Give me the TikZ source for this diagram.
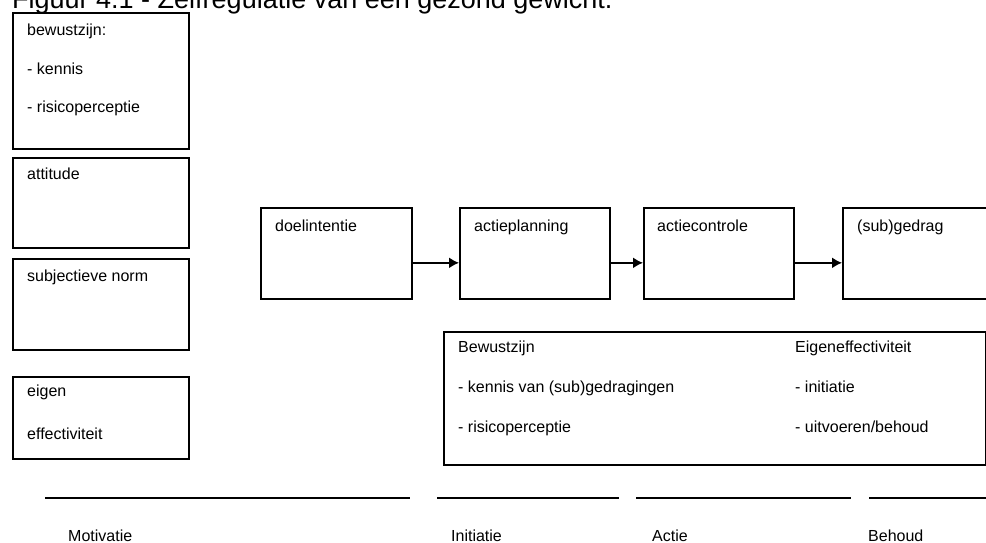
\documentclass[tikz,border=0pt]{standalone}
\usepackage{fontspec}
\setmainfont{Liberation Sans}
\usetikzlibrary{arrows.meta}
\begin{document}
\begin{tikzpicture}[x=1pt,y=-1pt,
  box/.style={draw,line width=1.7pt,inner sep=0pt},
  lbl/.style={anchor=base west,inner sep=0pt,font=\fontsize{16}{19}\selectfont},
  flow/.style={line width=1.7pt,-{Latex[length=10pt,width=11pt]}},
  phase/.style={line width=1.6pt}]
\useasboundingbox (0,0) rectangle (986,543);
\clip (0,0) rectangle (986,543);
% title (cut off at top)
\node[anchor=base west,inner sep=0pt,font=\fontsize{27}{32}\selectfont] (title) at (12,9) {Figuur 4.1 - Zelfregulatie van een gezond gewicht.};
% left boxes
\node[box,anchor=north west,minimum width=176pt,minimum height=136pt] (b1) at (12,12) {};
\node[lbl] (t1a) at (27,36) {bewustzijn:};
\node[lbl] (t1b) at (27,75) {- kennis};
\node[lbl] (t1c) at (27,113) {- risicoperceptie};
\node[box,anchor=north west,minimum width=176pt,minimum height=90pt] (b2) at (12,157) {};
\node[lbl] (t2) at (27,179) {attitude};
\node[box,anchor=north west,minimum width=176pt,minimum height=91pt] (b3) at (12,258) {};
\node[lbl] (t3) at (27,281) {subjectieve norm};
\node[box,anchor=north west,minimum width=176pt,minimum height=82pt] (b4) at (12,376) {};
\node[lbl] (t4a) at (27,396) {eigen};
\node[lbl] (t4b) at (27,439) {effectiviteit};
% process boxes
\node[box,anchor=north west,minimum width=151pt,minimum height=91pt] (d1) at (260,207) {};
\node[box,anchor=north west,minimum width=150pt,minimum height=91pt] (d2) at (459,207) {};
\node[box,anchor=north west,minimum width=150pt,minimum height=91pt] (d3) at (643,207) {};
\node[box,anchor=north west,minimum width=160pt,minimum height=91pt] (d4) at (842,207) {};
\node[lbl] (l1) at (275,231) {doelintentie};
\node[lbl] (l2) at (474,231) {actieplanning};
\node[lbl] (l3) at (657,231) {actiecontrole};
\node[lbl] (l4) at (857,231) {(sub)gedrag};
\draw[flow] ([yshift=-9.5pt]d1.east) -- ([yshift=-9.5pt]d2.west);
\draw[flow] ([yshift=-9.5pt]d2.east) -- ([yshift=-9.5pt]d3.west);
\draw[flow] ([yshift=-9.5pt]d3.east) -- ([yshift=-9.5pt]d4.west);
% bottom box
\node[box,anchor=north west,minimum width=542pt,minimum height=133pt] (bb) at (443,331) {};
\node[lbl] (bw) at (458,352) {Bewustzijn};
\node[lbl] (bw1) at (458,392) {- kennis van (sub)gedragingen};
\node[lbl] (bw2) at (458,432) {- risicoperceptie};
\node[lbl] (ee) at (795,352) {Eigeneffectiviteit};
\node[lbl] (ee1) at (795,392) {- initiatie};
\node[lbl] (ee2) at (795,432) {- uitvoeren/behoud};
% phase lines
\coordinate (p1a) at (45,498);  \coordinate (p1b) at (410,498);
\coordinate (p2a) at (437,498); \coordinate (p2b) at (619,498);
\coordinate (p3a) at (636,498); \coordinate (p3b) at (851,498);
\coordinate (p4a) at (869,498); \coordinate (p4b) at (990,498);
\draw[phase] (p1a) -- (p1b);
\draw[phase] (p2a) -- (p2b);
\draw[phase] (p3a) -- (p3b);
\draw[phase] (p4a) -- (p4b);
\node[lbl] (m) at (68,541) {Motivatie};
\node[lbl] (i) at (451,541) {Initiatie};
\node[lbl] (a) at (652,541) {Actie};
\node[lbl] (bh) at (868,541) {Behoud};
\end{tikzpicture}
\end{document}
